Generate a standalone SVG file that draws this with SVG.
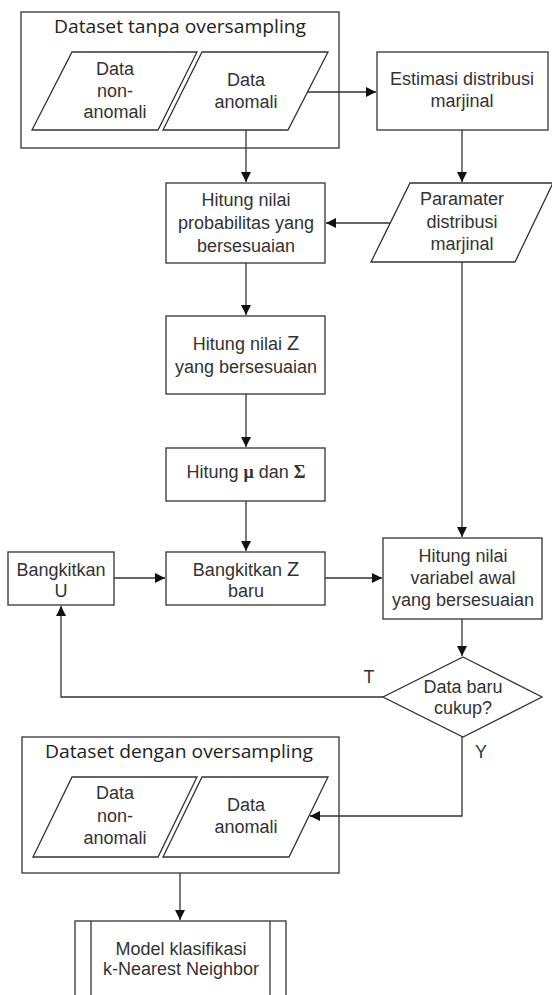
<svg xmlns="http://www.w3.org/2000/svg" width="552" height="995" viewBox="0 0 552 995">
<style>
.s{fill:#fff;stroke:#333;stroke-width:1.3}
.f{fill:none;stroke:#333;stroke-width:1.3}
.t{font-family:"Liberation Sans",Arial,sans-serif;font-size:18px;fill:#333;text-anchor:middle}
.h{font-family:"Open Sans","Noto Sans",sans-serif;font-size:19px;fill:#222;text-anchor:middle}
.c{fill:none;stroke:#333;stroke-width:1.3}
.m{font-family:"Liberation Serif",serif;font-weight:bold}
</style>
<defs>
<marker id="a" markerUnits="userSpaceOnUse" markerWidth="11" markerHeight="11" refX="10" refY="5" orient="auto">
<path d="M0,0 L10,5 L0,10 z" fill="#111"/>
</marker>
</defs>
<rect width="552" height="995" fill="#fff"/>
<g id="dataset-tanpa">
<rect class="f" x="21" y="12" width="318" height="136"/>
<text class="h" x="180" y="33" textLength="252" lengthAdjust="spacingAndGlyphs">Dataset tanpa oversampling</text>
</g>
<g id="data-non-anomali-1">
<polygon class="s" points="72,52 197,52 158,130 32,130"/>
<text class="t" x="115" y="75">Data</text>
<text class="t" x="115" y="97">non-</text>
<text class="t" x="115" y="118">anomali</text>
</g>
<g id="data-anomali-1">
<polygon class="s" points="202,52 328,52 288,130 163,130"/>
<text class="t" x="246" y="86">Data</text>
<text class="t" x="246" y="108">anomali</text>
</g>
<g id="estimasi">
<rect class="s" x="377" y="52" width="171" height="78"/>
<text class="t" x="462" y="85">Estimasi distribusi</text>
<text class="t" x="462" y="107">marjinal</text>
</g>
<g id="paramater">
<polygon class="s" points="410,183 553,183 515,262 371,262"/>
<text class="t" x="462" y="205">Paramater</text>
<text class="t" x="462" y="228">distribusi</text>
<text class="t" x="462" y="250">marjinal</text>
</g>
<g id="hitung-prob">
<rect class="s" x="166" y="183" width="159" height="80"/>
<text class="t" x="246" y="206">Hitung nilai</text>
<text class="t" x="246" y="229">probabilitas yang</text>
<text class="t" x="246" y="252">bersesuaian</text>
</g>
<g id="hitung-z">
<rect class="s" x="166" y="316" width="159" height="78"/>
<text class="t" x="246" y="350">Hitung nilai <tspan font-size="20">Z</tspan></text>
<text class="t" x="246" y="373">yang bersesuaian</text>
</g>
<g id="hitung-mu">
<rect class="s" x="166" y="448" width="159" height="53"/>
<text class="t" x="246" y="478">Hitung <tspan class="m">μ</tspan> dan <tspan class="m">Σ</tspan></text>
</g>
<g id="bangkitkan-u">
<rect class="s" x="8" y="552" width="106" height="53"/>
<text class="t" x="61" y="576">Bangkitkan</text>
<text class="t" x="61" y="597">U</text>
</g>
<g id="bangkitkan-z">
<rect class="s" x="166" y="552" width="159" height="53"/>
<text class="t" x="246" y="576">Bangkitkan <tspan font-size="20">Z</tspan></text>
<text class="t" x="246" y="597">baru</text>
</g>
<g id="hitung-variabel">
<rect class="s" x="383" y="538" width="159" height="81"/>
<text class="t" x="463" y="562">Hitung nilai</text>
<text class="t" x="463" y="584">variabel awal</text>
<text class="t" x="463" y="606">yang bersesuaian</text>
</g>
<g id="keputusan">
<polygon class="s" points="463,657 542,697 463,737 383,697"/>
<text class="t" x="463" y="693">Data baru</text>
<text class="t" x="463" y="714">cukup?</text>
</g>
<g id="dataset-dengan">
<rect class="f" x="22" y="737" width="317" height="136"/>
<text class="h" x="179" y="758" textLength="268" lengthAdjust="spacingAndGlyphs">Dataset dengan oversampling</text>
</g>
<g id="data-non-anomali-2">
<polygon class="s" points="72,777 197,777 158,857 33,857"/>
<text class="t" x="115" y="799">Data</text>
<text class="t" x="115" y="822">non-</text>
<text class="t" x="115" y="844">anomali</text>
</g>
<g id="data-anomali-2">
<polygon class="s" points="202,777 328,777 289,857 163,857"/>
<text class="t" x="246" y="811">Data</text>
<text class="t" x="246" y="833">anomali</text>
</g>
<g id="model-knn">
<rect class="s" x="75" y="921" width="211" height="90"/>
<line class="c" x1="91" y1="921" x2="91" y2="1000"/>
<line class="c" x1="270" y1="921" x2="270" y2="1000"/>
<text class="t" x="181" y="955">Model klasifikasi</text>
<text class="t" x="181" y="975">k-Nearest Neighbor</text>
</g>
<g id="connectors">
<path class="c" d="M308,92 L376,92" marker-end="url(#a)"/>
<path class="c" d="M462,130 L462,182" marker-end="url(#a)"/>
<path class="c" d="M390,223 L326,223" marker-end="url(#a)"/>
<path class="c" d="M246,130 L246,182" marker-end="url(#a)"/>
<path class="c" d="M246,263 L246,315" marker-end="url(#a)"/>
<path class="c" d="M246,394 L246,447" marker-end="url(#a)"/>
<path class="c" d="M246,501 L246,551" marker-end="url(#a)"/>
<path class="c" d="M114,578 L165,578" marker-end="url(#a)"/>
<path class="c" d="M325,578 L382,578" marker-end="url(#a)"/>
<path class="c" d="M462,262 L462,537" marker-end="url(#a)"/>
<path class="c" d="M462,619 L462,656" marker-end="url(#a)"/>
<path class="c" d="M383,697 L61,697 L61,606" marker-end="url(#a)"/>
<path class="c" d="M462,737 L462,816 L310,816" marker-end="url(#a)"/>
<path class="c" d="M180,873 L180,920" marker-end="url(#a)"/>
<text class="t" x="369" y="683">T</text>
<text class="t" x="481" y="758">Y</text>
</g>
</svg>
